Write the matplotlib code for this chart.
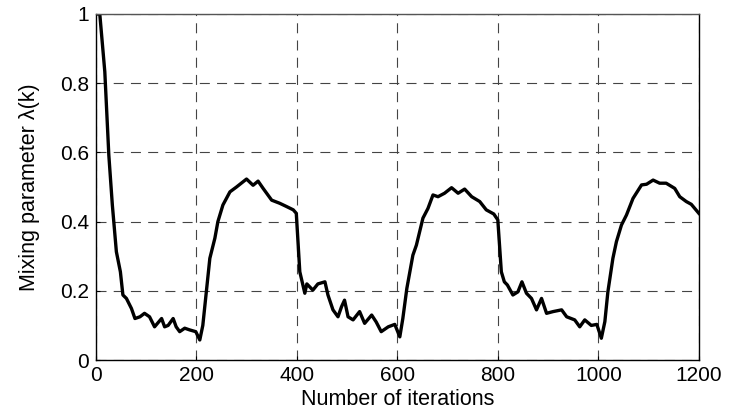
import numpy as np
import matplotlib.pyplot as plt

# ── Data ─────────────────────────────────────────────────────────────────────
iters = [0, 8, 18, 26, 33, 41, 49, 54, 61, 71, 78, 88, 97, 107, 117, 131, 137,
         144, 154, 160, 167, 177, 187, 199, 207, 213, 220, 227, 237, 243, 253,
         267, 280, 300, 313, 323, 333, 350, 366, 379, 393, 399,
         406, 416, 420, 432, 442, 456, 462, 472, 482, 489, 495, 502, 512, 525,
         535, 549, 558, 568, 582, 595, 605, 611, 619, 631, 638, 651, 661, 671,
         681, 694, 708, 721, 734, 748, 764, 777, 792, 800,
         807, 813, 819, 830, 840, 848, 857, 867, 877, 887, 897, 910, 927, 937,
         953, 963, 973, 986, 997, 1006, 1013, 1019, 1029, 1036, 1046, 1056,
         1069, 1086, 1096, 1109, 1122, 1135, 1152, 1162, 1175, 1185, 1200]
lam = [1.0, 1.0, 0.833, 0.592, 0.448, 0.313, 0.255, 0.188, 0.178, 0.149, 0.12,
       0.125, 0.135, 0.125, 0.096, 0.12, 0.096, 0.10, 0.12, 0.096, 0.082,
       0.092, 0.087, 0.082, 0.058, 0.10, 0.197, 0.294, 0.352, 0.40, 0.448,
       0.486, 0.50, 0.523, 0.505, 0.517, 0.496, 0.462, 0.453, 0.444, 0.434,
       0.424,
       0.255, 0.193, 0.22, 0.202, 0.22, 0.226, 0.188, 0.145, 0.125, 0.154,
       0.173, 0.125, 0.116, 0.14, 0.106, 0.13, 0.11, 0.082, 0.096, 0.103,
       0.067, 0.12, 0.207, 0.303, 0.332, 0.41, 0.438, 0.477, 0.472, 0.482,
       0.498, 0.482, 0.494, 0.472, 0.458, 0.434, 0.422, 0.405,
       0.255, 0.226, 0.217, 0.188, 0.197, 0.226, 0.193, 0.178, 0.145, 0.178,
       0.135, 0.14, 0.145, 0.125, 0.116, 0.096, 0.116, 0.10, 0.103, 0.063,
       0.111, 0.197, 0.294, 0.342, 0.39, 0.419, 0.467, 0.506, 0.508, 0.52,
       0.511, 0.511, 0.496, 0.472, 0.458, 0.45, 0.424]

xticks = [0, 200, 400, 600, 800, 1000, 1200]
yticks = [0, 0.2, 0.4, 0.6, 0.8, 1]
ytick_labels = ['0', '0.2', '0.4', '0.6', '0.8', '1']

plt.rcParams['font.family'] = ['Liberation Sans', 'DejaVu Sans']

fig = plt.figure(figsize=(7.31, 4.11), dpi=100)
ax = fig.add_axes([0.131, 0.124, 0.825, 0.842])

ax.plot(iters, lam, color='black', linewidth=2.4, solid_joinstyle='round')

ax.set_xlim(0, 1200)
ax.set_ylim(0, 1)
ax.set_xticks(xticks)
ax.set_yticks(yticks)
ax.set_yticklabels(ytick_labels)
ax.tick_params(direction='in', length=3, labelsize=15, width=0.8)
ax.tick_params(axis='x', pad=4)
ax.tick_params(axis='y', pad=5)

ax.grid(True, color='#444444', linestyle=(0, (9, 6.5)), linewidth=0.8)
for s in ax.spines.values():
    s.set_linewidth(1.0)
ax.spines['top'].set_color('#555555')

ax.set_xlabel('Number of iterations', fontsize=15.5, labelpad=3)
ax.set_ylabel('Mixing parameter λ(k)', fontsize=15.5, labelpad=14)

fig.savefig('out.png', dpi=100)
